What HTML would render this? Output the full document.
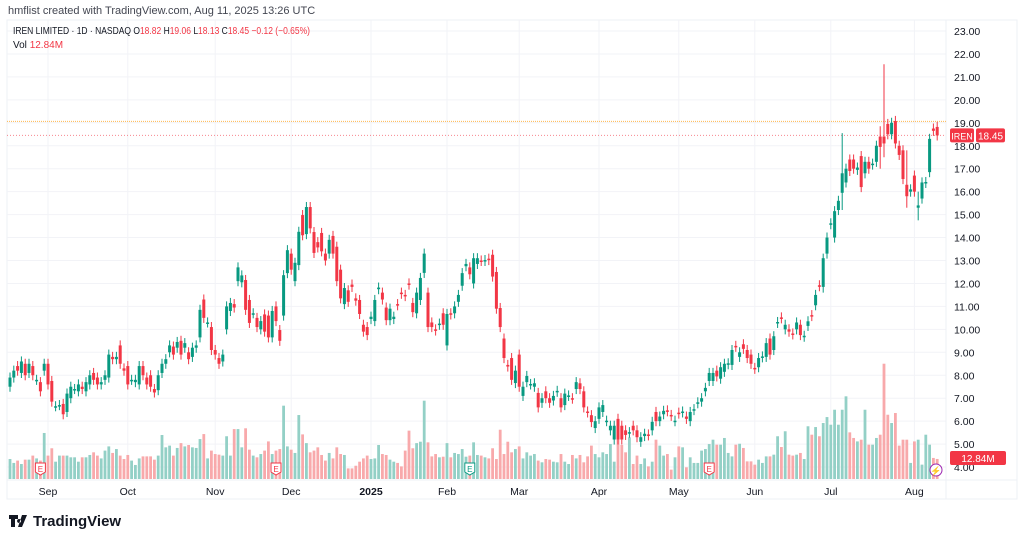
<!DOCTYPE html>
<html><head><meta charset="utf-8">
<style>
body{margin:0;width:1024px;height:543px;background:#fff;overflow:hidden;font-family:"Liberation Sans",sans-serif;}
#c{position:absolute;left:0;top:0}
</style></head>
<body>
<svg id="c" width="1024" height="543" xmlns="http://www.w3.org/2000/svg">
<text x="8" y="14" font-size="11" fill="#434651">hmflist created with TradingView.com, Aug 11, 2025 13:26 UTC</text>
<rect x="7" y="20" width="1010" height="479" fill="none" stroke="#eef0f5"/>
<g id="grid"></g>
<g id="vol"></g>
<g id="candles"></g>
<g id="axis"></g>
<g font-size="10">
<text x="13" y="34" fill="#131722" textLength="297" lengthAdjust="spacingAndGlyphs">IREN LIMITED · 1D · NASDAQ  <tspan fill="#131722">O</tspan><tspan fill="#f23645">18.82</tspan> <tspan fill="#131722">H</tspan><tspan fill="#f23645">19.06</tspan> <tspan fill="#131722">L</tspan><tspan fill="#f23645">18.13</tspan> <tspan fill="#131722">C</tspan><tspan fill="#f23645">18.45</tspan> <tspan fill="#f23645">−0.12 (−0.65%)</tspan></text>
<text x="13" y="48" fill="#131722">Vol  <tspan fill="#f23645">12.84M</tspan></text>
</g>
<g>
<path d="M9 515h9v4h-3v8h-4v-8h-2z M19 519a2 2 0 1 0 0.1 0z M22 515h5l-5 12h-4z" fill="#131722"/>
<text x="33" y="526" font-size="15" font-weight="bold" fill="#131722">TradingView</text>
</g>
</svg>
<script>
const opens=[7.5,7.9,8.4,8.1,8.5,8.1,8.4,7.8,7.7,8.2,8.5,7.75,6.65,6.7,6.75,6.4,7.0,7.4,7.3,7.5,7.3,7.6,8.1,7.9,7.6,7.8,7.9,8.8,8.7,9.3,8.3,8.4,7.8,7.7,7.6,8.4,7.9,8.0,7.4,7.35,8.1,8.5,9.0,9.25,9.2,9.5,9.2,9.0,8.8,9.2,9.65,11.3,10.3,10.1,9.1,8.75,8.6,10.0,10.8,11.1,12.1,12.05,12.15,11.28,10.7,10.5,10.0,10.65,10.6,9.65,11.0,9.97,10.6,12.45,13.3,12.1,12.8,14.98,14.15,15.33,14.24,13.8,14.2,13.3,13.3,14.07,13.6,12.6,11.1,11.7,11.95,11.35,11.28,10.2,10.1,10.45,10.36,11.75,11.6,10.95,10.4,10.45,11.1,11.6,11.5,12.0,11.15,10.7,11.28,12.46,11.6,10.3,10.0,10.2,10.7,9.3,10.7,10.7,11.2,11.9,12.75,12.7,12.0,12.85,13.0,12.98,13.08,13.25,12.5,10.93,9.6,8.45,8.75,7.66,8.9,7.1,7.7,7.6,7.5,7.23,6.8,7.3,7.0,6.9,7.28,7.0,6.7,7.1,7.0,7.4,7.65,7.3,6.42,6.26,5.7,6.1,6.4,6.0,5.6,5.2,6.1,5.8,5.6,5.5,5.8,5.6,5.1,5.35,5.42,5.6,6.4,6.0,6.3,6.47,6.27,6.0,6.37,6.38,6.2,6.0,6.48,6.78,6.85,7.3,7.75,7.75,8.2,7.85,8.15,8.48,8.45,9.28,8.8,9.35,9.1,8.9,8.32,8.35,8.78,8.8,9.6,9.1,10.28,10.52,10.0,10.0,9.82,10.0,10.2,9.68,10.15,10.62,11.05,11.92,11.85,13.3,14.58,14.0,15.2,15.95,16.4,17.4,17.4,16.95,17.55,16.8,17.3,17.18,17.3,18.4,18.4,18.95,18.5,19.08,18.0,17.8,16.3,16.0,16.7,15.3,15.7,16.38,16.85,18.75,18.82];
const closes=[7.9,8.2,8.2,8.6,8.0,8.5,8.0,7.8,7.3,8.5,7.6,6.85,6.65,6.7,6.3,7.2,7.5,7.4,7.6,7.4,7.7,8.0,7.8,7.6,7.7,8.0,8.9,8.7,8.8,8.5,8.2,7.6,7.8,7.8,8.4,8.0,7.6,7.5,7.25,8.0,8.5,8.7,9.3,8.9,9.45,8.9,9.4,8.7,9.2,9.3,10.85,10.5,10.3,9.1,8.9,8.5,8.9,11.0,11.15,10.95,12.7,12.35,10.85,10.28,10.7,10.1,10.36,9.9,9.65,10.8,10.36,9.5,12.36,13.45,12.6,12.9,14.25,14.1,15.33,14.4,13.33,13.57,13.4,13.0,13.9,13.3,12.1,11.35,11.8,11.2,11.85,11.25,10.67,9.9,9.75,10.55,11.28,11.82,11.3,10.4,10.9,10.55,11.05,11.55,11.45,11.95,10.75,11.6,12.24,13.3,10.1,10.1,9.95,10.25,10.2,10.67,10.65,11.0,11.5,12.45,12.85,12.4,13.1,13.1,12.98,13.02,13.02,12.3,10.9,10.1,8.75,8.38,7.8,8.2,7.5,7.5,7.97,7.62,7.65,6.6,7.0,7.0,6.8,7.1,7.32,6.6,7.2,7.12,6.98,7.7,7.4,6.6,6.38,5.96,6.0,6.6,6.7,6.02,5.8,5.8,5.2,5.2,5.4,5.52,5.6,5.3,5.3,5.45,5.38,5.97,6.0,6.2,6.45,6.43,6.23,6.02,6.33,6.42,6.1,6.4,6.52,6.82,7.0,7.45,8.1,8.1,7.95,8.35,8.5,8.52,9.1,9.24,9.0,9.15,8.75,8.5,8.28,8.75,8.82,9.4,8.9,9.7,10.32,10.48,10.2,9.9,9.78,10.3,9.75,9.72,10.35,10.58,11.5,11.88,13.1,14.0,14.62,15.15,15.6,16.8,17.0,16.9,17.0,17.05,16.2,17.3,17.0,17.22,18.0,17.95,18.1,18.5,19.0,18.1,17.6,16.55,15.8,16.1,16.0,15.4,16.4,16.42,18.3,18.65,18.45];
const volumes=[12.8,10.3,11.8,9.6,12.4,12.4,15,13.2,11.8,29.5,15,19.7,11.1,15,15,15,13.9,13.9,11.1,13.9,13.9,15.4,17.1,15,13.2,18.2,20.9,16.7,19.2,15,12.8,15.4,11.8,9,13.2,14.5,14.5,14.5,12.4,15,28.2,20.3,21.4,15,19.9,23,20.9,21.8,20.3,19.9,25.6,28.8,13.2,18.2,16,15.6,15,27.4,15,32,32,20.3,32.5,18.8,15,13.9,16,18.2,24.1,16,18.2,19.2,47,20.9,18.8,16.7,41,28.6,23,17.1,18.2,20.3,15.4,11.8,16.7,13.2,20.3,16,15.4,6.8,6.8,8.5,11.1,13.2,15,12.8,13.2,21.8,16,15.4,12.4,11.1,10.3,8.1,18.2,31,19.7,23,23.9,50.2,23.5,14.5,16,13.9,14.3,23,13.9,16.7,16,19.2,14.3,15,23.5,15.4,15,13.9,13.2,19.7,12.8,31.6,16,23.9,17.1,19.2,20.9,13.2,17.1,15,16,11.8,10.7,12.8,12.4,11.1,10.7,16,11.1,9.6,15.4,13.2,15.4,10.7,14.5,21.4,16,13.9,17.1,16,22.4,11.1,31,21.8,17.1,26.7,9.6,15,9.6,13.2,8.1,11.1,25.2,21.4,15,16,6,13.9,20.9,20.3,7.5,13.9,10.3,10.3,18.2,19.2,22.4,25.2,22,22,26.3,16.7,14.5,22,22.6,19.9,11.3,11.3,9.2,12.4,10.3,14.5,14.5,15.6,27.4,20.5,30.6,15.6,15,15.6,16.7,12.8,33.8,28.4,33.3,27.4,35.9,39.7,34.8,44.4,34.8,44.4,53,29.9,26.3,24.1,25.2,44.4,22,22,26.3,28.4,73.9,41.2,35.9,42.3,21.4,25.2,25.2,10.3,24.1,25.2,9.2,28.4,22,13.5,12.84];
const wickOverrides={230:[21.55,17.5],236:[17.8,15.3],239:[16.0,14.75],229:[18.85,17.0],219:[18.55,15.2],214:[13.3,11.6]};
const priceTicks=[4,5,6,7,8,9,10,11,12,13,14,15,16,17,18,19,20,21,22,23];
const monthLabels=["Sep","Oct","Nov","Dec","2025","Feb","Mar","Apr","May","Jun","Jul","Aug"];
const monthIdx=[10,31,54,74,95,115,134,155,176,196,216,238];
const earnIdx=[8,70,121,184];
const lastPrice=18.45, highLine=19.06, lastVol="12.84M";

const NS="http://www.w3.org/2000/svg";
const X0=10, STEP=3.8, PLOT_R=946;
const xOf=i=>X0+i*STEP;
const yOf=p=>31+(23-p)*22.95;
const VBASE=479, VPX=1.56;
function mk(tag,attrs,parent,text){const e=document.createElementNS(NS,tag);for(const k in attrs)e.setAttribute(k,attrs[k]);if(text!==undefined)e.textContent=text;parent.appendChild(e);return e;}
const grid=document.getElementById('grid'),vol=document.getElementById('vol'),cg=document.getElementById('candles'),ax=document.getElementById('axis');
priceTicks.forEach(p=>{
  const l=mk('line',{x1:7,x2:PLOT_R,y1:yOf(p),y2:yOf(p),stroke:'#f2f3f7'},grid);
  
  
  const t=mk('text',{x:954,y:yOf(p)+4,'font-size':10.5,fill:'#131722'},ax,p.toFixed(2));
  
  
});
monthIdx.forEach((m,k)=>{
  const x=xOf(m);
  const l=mk('line',{x1:x,x2:x,y1:20,y2:479,stroke:'#f2f3f7'},grid);
  
  
  const t=mk('text',{x:x,y:495,'font-size':10.5,'text-anchor':'middle',fill:'#131722','font-weight':monthLabels[k]==='2025'?'bold':'normal'},ax,monthLabels[k]);
  
  
});
mk('line',{x1:7,x2:1017,y1:480,y2:480,stroke:'#eef0f5'},grid);
mk('line',{x1:PLOT_R,x2:PLOT_R,y1:20,y2:499,stroke:'#eef0f5'},grid);
closes.forEach((c,i)=>{
  const o=opens[i],up=c>=o,x=xOf(i);
  const vb=mk('rect',{x:x-1.4,y:VBASE-volumes[i]*VPX,width:2.8,height:volumes[i]*VPX,fill:up?'#93d0c6':'#f8a9ab'},vol);
  
  
  const ov=wickOverrides[i];
  const hi=ov?ov[0]:Math.max(o,c)+0.22, lo=ov?ov[1]:Math.min(o,c)-0.22;
  const col=up?'#089981':'#f23645';
  const w=mk('line',{x1:x,x2:x,y1:yOf(hi),y2:yOf(lo),stroke:col,'stroke-width':1},cg);
  
  
  const top=yOf(Math.max(o,c)),h=Math.max(1.5,yOf(Math.min(o,c))-top);
  const b=mk('rect',{x:x-1.5,y:top,width:3,height:h,fill:col},cg);
  
  
});
earnIdx.forEach((e,k)=>{
  const x=xOf(e),g=mk('g',{},ax);
  
  
  const c=k===2?'#089981':'#f23645';
  mk('path',{d:`M${x-5} 463h10v9l-5 3l-5-3z`,fill:'#fff',stroke:c},g);
  mk('text',{x:x,y:472,'font-size':8,'text-anchor':'middle',fill:c},g,'E');
});
const bolt=mk('g',{},ax);


mk('circle',{cx:936,cy:470,r:6,fill:'#fff',stroke:'#9c27b0'},bolt);
mk('text',{x:936,y:474,'font-size':9,'text-anchor':'middle',fill:'#9c27b0'},bolt,'⚡');
const hl=mk('line',{x1:7,x2:PLOT_R,y1:yOf(highLine),y2:yOf(highLine),stroke:'#ffb74d','stroke-dasharray':'1 1'},grid);


const ll=mk('line',{x1:7,x2:PLOT_R,y1:yOf(lastPrice),y2:yOf(lastPrice),stroke:'#f23645','stroke-dasharray':'1 2','stroke-opacity':0.6},grid);


const lb=mk('g',{},ax);


const ly=yOf(lastPrice);
mk('rect',{x:950,y:ly-7,width:24,height:14,fill:'#f23645',rx:2},lb);
mk('text',{x:962,y:ly+4,'font-size':9,'text-anchor':'middle',fill:'#fff'},lb,'IREN');
mk('rect',{x:976,y:ly-7,width:29,height:14,fill:'#f23645',rx:2},lb);
mk('text',{x:990.5,y:ly+4,'font-size':10,'text-anchor':'middle',fill:'#fff'},lb,lastPrice.toFixed(2));
const vl=mk('g',{},ax);


mk('rect',{x:950,y:451,width:56,height:14,fill:'#f23645',rx:2},vl);
mk('text',{x:978,y:462,'font-size':10,'text-anchor':'middle',fill:'#fff'},vl,lastVol);
</script>
</body></html>
